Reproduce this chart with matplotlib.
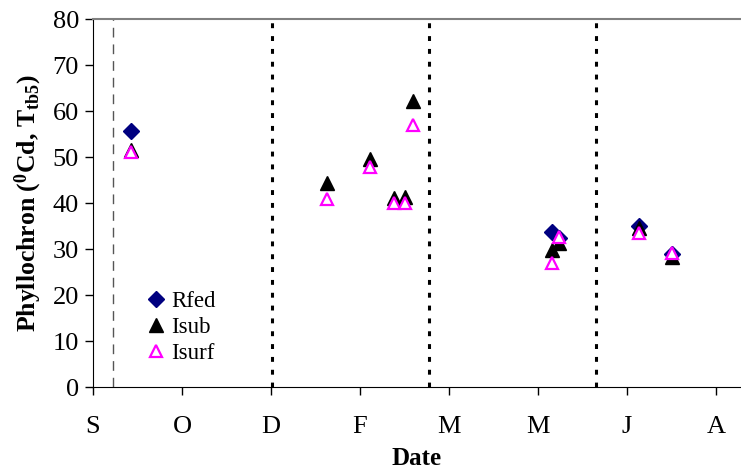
import numpy as np
import matplotlib.pyplot as plt

# days after 1 Sep, axis ticks every 52 days
tick_step = 52
month_labels = ['S', 'O', 'D', 'F', 'M', 'M', 'J', 'A']

rfed_x = [22, 268, 272, 319, 338]
rfed_y = [55.6, 33.7, 32.3, 34.9, 29.0]

isub_x = [22, 137, 162, 176, 182, 187, 268, 272, 319, 338]
isub_y = [51.5, 44.3, 49.6, 41.1, 41.3, 62.2, 29.8, 31.3, 34.6, 28.3]

isurf_x = [22, 137, 162, 176, 182, 187, 268, 272, 319, 338]
isurf_y = [51.0, 40.8, 47.8, 40.0, 40.0, 57.0, 26.9, 32.6, 33.5, 29.1]

sow_line = 11.7
stage_lines = [104.5, 196.6, 293.8]


def main():
    plt.rcParams['font.family'] = ['Liberation Serif', 'DejaVu Serif']
    plt.rcParams['mathtext.fontset'] = 'custom'
    plt.rcParams['mathtext.rm'] = 'Liberation Serif:bold'
    plt.rcParams['mathtext.it'] = 'Liberation Serif:bold'

    fig = plt.figure(figsize=(7.41, 4.73), dpi=100)
    ax = fig.add_axes([93/741, 1-387/473, 1-93/741, 368/473])

    ax.axvline(sow_line, color='#555555', lw=1, ls=(0, (7, 5)), zorder=1)
    for xv in stage_lines:
        ax.axvline(xv, color='black', lw=2.2, ls=(0, (1.6, 2.6)), zorder=1)

    ax.plot(rfed_x, rfed_y, ls='none', marker='D', ms=8, color='#000080',
            label='Rfed', zorder=3)
    ax.plot(isub_x, isub_y, ls='none', marker='^', ms=9.5, color='black',
            label='Isub', zorder=4)
    ax.plot(isurf_x, isurf_y, ls='none', marker='^', ms=9, mfc='white',
            mec='#ff00ff', mew=1.6, label='Isurf', zorder=5)

    ax.set_xlim(0, (741-93)/89 * tick_step)
    ax.set_ylim(0, 80)
    ax.set_xticks(np.arange(len(month_labels)) * tick_step)
    ax.set_xticklabels(month_labels)
    ax.set_yticks(np.arange(0, 81, 10))

    ax.tick_params(axis='both', direction='out', length=6, width=1, labelsize=19)
    ax.tick_params(axis='x', pad=15)
    ax.tick_params(axis='y', pad=4)

    ax.spines['right'].set_visible(False)
    ax.spines['top'].set_color('#808080')
    ax.spines['top'].set_linewidth(1.5)

    ax.set_xlabel('Date', fontsize=18, fontweight='bold', labelpad=6)
    ax.set_ylabel(r'Phyllochron ($^{0}$Cd, T$_{tb5}$)', fontsize=18.5,
                  fontweight='bold', labelpad=6)

    ax.legend(loc='upper left', bbox_to_anchor=(0.06, 0.285), frameon=False,
              fontsize=16.5, handletextpad=0.0, labelspacing=0.22,
              handlelength=1.3, borderaxespad=0)

    fig.savefig('out.png', dpi=100)


if __name__ == "__main__":
    main()
